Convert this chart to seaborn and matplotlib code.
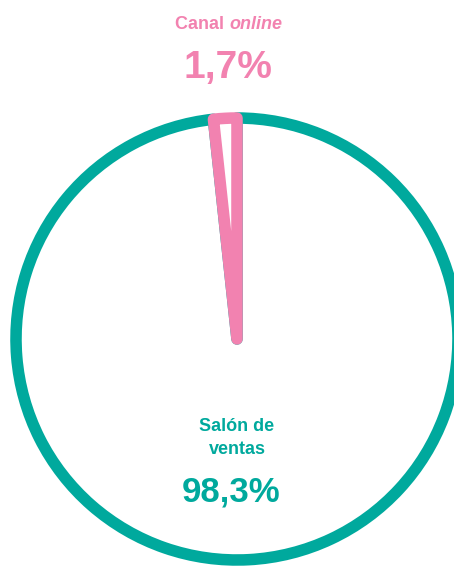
import matplotlib.pyplot as plt
import seaborn as sns

# shares of sales by channel
channels = ["Canal online", "Salón de ventas"]
shares = [1.7, 98.3]
colors = ["#F282B0", "#00A99D"]

sns.set_style("white")
plt.rcParams['font.family'] = ['Liberation Sans', 'DejaVu Sans']

fig = plt.figure(figsize=(4.54, 5.67), dpi=100)
ax = fig.add_axes([0, 0, 1, 1])

# pink slice first, counter-clockwise from the top
wedges, _ = ax.pie(shares, startangle=90, counterclock=True, radius=1.0,
                   colors=["white", "white"],
                   wedgeprops=dict(linewidth=8.3, joinstyle='round'))
wedges[0].set_edgecolor(colors[0])
wedges[1].set_edgecolor(colors[1])
wedges[0].set_zorder(3)
wedges[1].set_zorder(2)

ax.set_aspect('auto')
ax.set_xlim(-1.0724, 0.982)
ax.set_ylim(-1.0317, 1.534)
ax.axis('off')

# labels
ax.text(-0.036, 1.425, "Canal ", color=colors[0], fontsize=13, fontweight='bold',
        ha='right', va='center')
ax.text(-0.036, 1.425, "online", color=colors[0], fontsize=13, fontweight='bold',
        style='italic', ha='left', va='center')
ax.text(-0.041, 1.226, f"{shares[0]:.1f}%".replace('.', ','), color=colors[0],
        fontsize=28, fontweight='bold', ha='center', va='center')

ax.text(0.0, -0.394, "Salón de", color=colors[1], fontsize=13,
        fontweight='bold', ha='center', va='center')
ax.text(0.0, -0.502, "ventas", color=colors[1], fontsize=13,
        fontweight='bold', ha='center', va='center')
ax.text(-0.027, -0.692, f"{shares[1]:.1f}%".replace('.', ','), color=colors[1],
        fontsize=25, fontweight='bold', ha='center', va='center')

plt.savefig("out.png", dpi=100)
